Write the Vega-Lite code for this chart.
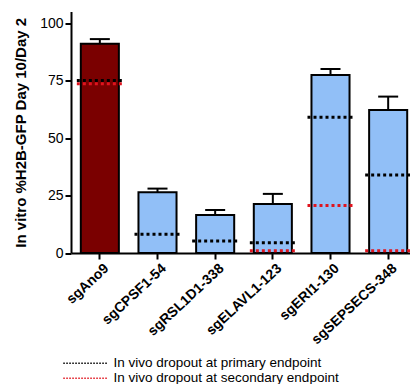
{
  "$schema": "https://vega.github.io/schema/vega-lite/v6.json",
  "autosize": {"type": "none"},
  "width": 339,
  "height": 241.5,
  "padding": {"left": 71, "top": 11.5, "right": 0, "bottom": 131},
  "config": {
    "view": {"stroke": null},
    "font": "Liberation Sans",
    "axis": {"domainColor": "black", "domainWidth": 2, "tickColor": "black", "tickWidth": 2, "tickSize": 6, "labelColor": "black", "titleColor": "black", "grid": false}
  },
  "datasets": {
    "bars": [
      {"guide": "sgAno9", "value": 91, "err": 93},
      {"guide": "sgCPSF1-54", "value": 26.4, "err": 28},
      {"guide": "sgRSL1D1-338", "value": 16.5, "err": 18.7},
      {"guide": "sgELAVL1-123", "value": 21.3, "err": 25.7},
      {"guide": "sgERI1-130", "value": 77.4, "err": 80},
      {"guide": "sgSEPSECS-348", "value": 62.2, "err": 68}
    ],
    "dropout": [
      {"guide": "sgAno9", "endpoint": "In vivo dropout at secondary endpoint", "value": 73.6},
      {"guide": "sgELAVL1-123", "endpoint": "In vivo dropout at secondary endpoint", "value": 1.0},
      {"guide": "sgERI1-130", "endpoint": "In vivo dropout at secondary endpoint", "value": 20.6},
      {"guide": "sgSEPSECS-348", "endpoint": "In vivo dropout at secondary endpoint", "value": 1.0},
      {"guide": "sgAno9", "endpoint": "In vivo dropout at primary endpoint", "value": 75},
      {"guide": "sgCPSF1-54", "endpoint": "In vivo dropout at primary endpoint", "value": 8.1},
      {"guide": "sgRSL1D1-338", "endpoint": "In vivo dropout at primary endpoint", "value": 5.2},
      {"guide": "sgELAVL1-123", "endpoint": "In vivo dropout at primary endpoint", "value": 4.5},
      {"guide": "sgERI1-130", "endpoint": "In vivo dropout at primary endpoint", "value": 59},
      {"guide": "sgSEPSECS-348", "endpoint": "In vivo dropout at primary endpoint", "value": 33.9}
    ]
  },
  "encoding": {
    "x": {
      "field": "guide", "type": "nominal", "sort": null,
      "scale": {"range": [0, 346], "paddingInner": 0.34, "paddingOuter": 0.17},
      "axis": {"title": null, "labelAngle": -43, "labelAlign": "right", "labelBaseline": "top", "labelFontSize": 14, "labelFontWeight": "bold", "labelPadding": 2, "labelOffset": 2}
    }
  },
  "layer": [
    {
      "data": {"name": "bars"},
      "mark": {"type": "rule", "strokeWidth": 2, "color": "black"},
      "encoding": {
        "y": {"field": "value", "type": "quantitative"},
        "y2": {"field": "err"}
      }
    },
    {
      "data": {"name": "bars"},
      "mark": {"type": "rule", "strokeWidth": 2, "color": "black", "xOffset": -10, "x2Offset": 10},
      "encoding": {
        "x2": {"field": "guide"},
        "y": {"field": "err", "type": "quantitative"}
      }
    },
    {
      "data": {"name": "bars"},
      "mark": {"type": "bar", "stroke": "black", "strokeWidth": 2},
      "encoding": {
        "y": {
          "field": "value", "type": "quantitative",
          "scale": {"domain": [0, 105], "nice": false},
          "axis": {"values": [0, 25, 50, 75, 100], "title": "In vitro %H2B-GFP Day 10/Day 2", "titleFontSize": 15, "titleFontWeight": "bold", "titlePadding": 11, "labelFontSize": 14, "labelPadding": 2}
        },
        "fill": {
          "condition": {"test": "datum.guide === 'sgAno9'", "value": "#7a0000"},
          "value": "#91bff7"
        }
      }
    },
    {
      "data": {"name": "dropout"},
      "mark": {"type": "rule", "strokeWidth": 3, "strokeDash": [3, 3], "xOffset": -23, "x2Offset": 23},
      "encoding": {
        "x2": {"field": "guide"},
        "y": {"field": "value", "type": "quantitative"},
        "color": {
          "field": "endpoint", "type": "nominal",
          "scale": {"domain": ["In vivo dropout at primary endpoint", "In vivo dropout at secondary endpoint"], "range": ["black", "#e0141e"]},
          "legend": {"title": null, "orient": "none", "legendX": 8, "legendY": 345, "symbolType": "M-4,0H4", "symbolSize": 126, "symbolStrokeWidth": 1.5, "symbolDash": [1.5, 1.5], "symbolFillColor": "transparent", "labelFontSize": 13.5, "labelColor": "black", "labelOffset": 21, "labelLimit": 400, "rowPadding": 0, "padding": 0}
        }
      }
    }
  ]
}
